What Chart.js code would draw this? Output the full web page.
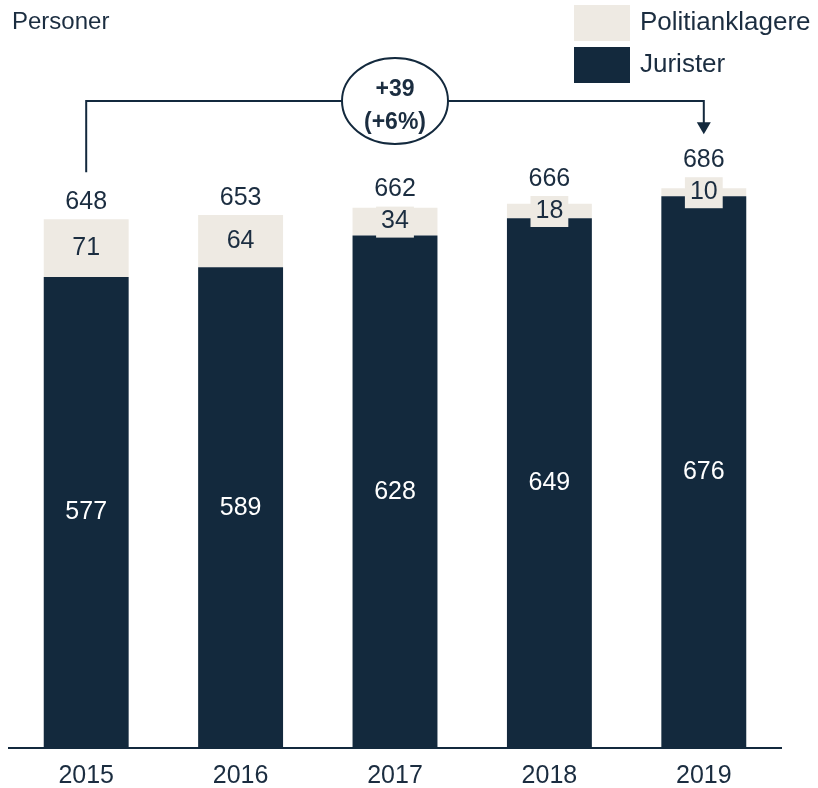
<!DOCTYPE html>
<html>
<head>
<meta charset="utf-8">
<script src="https://cdn.jsdelivr.net/npm/chart.js@4"></script>
<style>
  body { margin: 0; background: #fff; }
  #wrap { width: 818px; height: 788px; }
</style>
</head>
<body>
<div id="wrap"><canvas id="chart" width="818" height="788"></canvas></div>
<script>
const years = ["2015", "2016", "2017", "2018", "2019"];
const jurister = [577, 589, 628, 649, 676];
const politianklagere = [71, 64, 34, 18, 10];
const totals = [648, 653, 662, 666, 686];
const changeLabel = ["+39", "(+6%)"];

const NAVY = "#13293d";
const BEIGE = "#eeeae3";
const TEXT = "#1b2d40";
const FONT = "'Liberation Sans', Arial, sans-serif";

// labels on the bars + totals + legend + title + arrow
const overlay = {
  id: "overlay",
  afterDatasetsDraw(chart) {
    const ctx = chart.ctx;
    const metaJ = chart.getDatasetMeta(0);
    const metaP = chart.getDatasetMeta(1);
    ctx.save();
    ctx.font = "25px " + FONT;
    ctx.textAlign = "center";
    ctx.textBaseline = "middle";

    const totalY = [];
    years.forEach((yr, i) => {
      const bj = metaJ.data[i];
      const bp = metaP.data[i];
      // jurister label
      ctx.fillStyle = "#fff";
      ctx.fillText(String(jurister[i]), bj.x, (bj.y + bj.base) / 2);
      // politianklagere label with box
      const mid = (bp.y + bp.base) / 2;
      const tw = ctx.measureText(String(politianklagere[i])).width;
      const boxTop = mid - 15;
      ctx.fillStyle = BEIGE;
      ctx.fillRect(bp.x - tw / 2 - 5, boxTop, tw + 10, 31);
      ctx.fillStyle = TEXT;
      ctx.fillText(String(politianklagere[i]), bp.x, mid);
      // total
      const ty = Math.min(bp.y, boxTop) - 17;
      totalY.push(ty);
      ctx.fillText(String(totals[i]), bp.x, ty);
    });

    // arrow annotation
    const x0 = metaP.data[0].x;
    const x1 = metaP.data[years.length - 1].x;
    const yStart = totalY[0] - 30;
    const yLine = 101;
    const yEnd = totalY[years.length - 1] - 26;
    ctx.strokeStyle = NAVY;
    ctx.lineWidth = 2;
    ctx.beginPath();
    ctx.moveTo(x0, yStart);
    ctx.lineTo(x0, yLine);
    ctx.lineTo(x1, yLine);
    ctx.lineTo(x1, yEnd - 10);
    ctx.stroke();
    ctx.fillStyle = NAVY;
    ctx.beginPath();
    ctx.moveTo(x1 - 7, yEnd - 12);
    ctx.lineTo(x1 + 7, yEnd - 12);
    ctx.lineTo(x1, yEnd);
    ctx.closePath();
    ctx.fill();

    const cx = (x0 + x1) / 2;
    ctx.beginPath();
    ctx.ellipse(cx, yLine, 53, 43, 0, 0, Math.PI * 2);
    ctx.fillStyle = "#fff";
    ctx.fill();
    ctx.stroke();
    ctx.fillStyle = TEXT;
    ctx.font = "bold 23px " + FONT;
    ctx.fillText(changeLabel[0], cx, yLine - 11);
    ctx.fillText(changeLabel[1], cx, yLine + 22);

    // title
    ctx.textAlign = "left";
    ctx.font = "24px " + FONT;
    ctx.fillText("Personer", 12, 22);

    // legend
    const items = [chart.data.datasets[1], chart.data.datasets[0]];
    ctx.font = "26px " + FONT;
    items.forEach((ds, k) => {
      const top = 5 + k * 42;
      ctx.fillStyle = ds.backgroundColor;
      ctx.fillRect(574, top, 56, 36);
      ctx.fillStyle = TEXT;
      ctx.fillText(ds.label, 640, top + 18);
    });
    ctx.restore();
  }
};

new Chart(document.getElementById("chart"), {
  type: "bar",
  data: {
    labels: years,
    datasets: [
      { label: "Jurister", data: jurister, backgroundColor: NAVY },
      { label: "Politianklagere", data: politianklagere, backgroundColor: BEIGE }
    ]
  },
  options: {
    responsive: false,
    animation: false,
    layout: { padding: { top: 100, left: 9, right: 37, bottom: -16 } },
    plugins: { legend: { display: false }, tooltip: { enabled: false } },
    datasets: { bar: { barPercentage: 0.55, categoryPercentage: 1 } },
    scales: {
      x: {
        stacked: true,
        grid: { display: false, drawTicks: false },
        border: { color: NAVY, width: 2 },
        ticks: { color: TEXT, font: { size: 25, family: FONT }, padding: 13 }
      },
      y: {
        stacked: true,
        display: false,
        min: 0,
        max: 794
      }
    }
  },
  plugins: [overlay]
});
</script>
</body>
</html>
